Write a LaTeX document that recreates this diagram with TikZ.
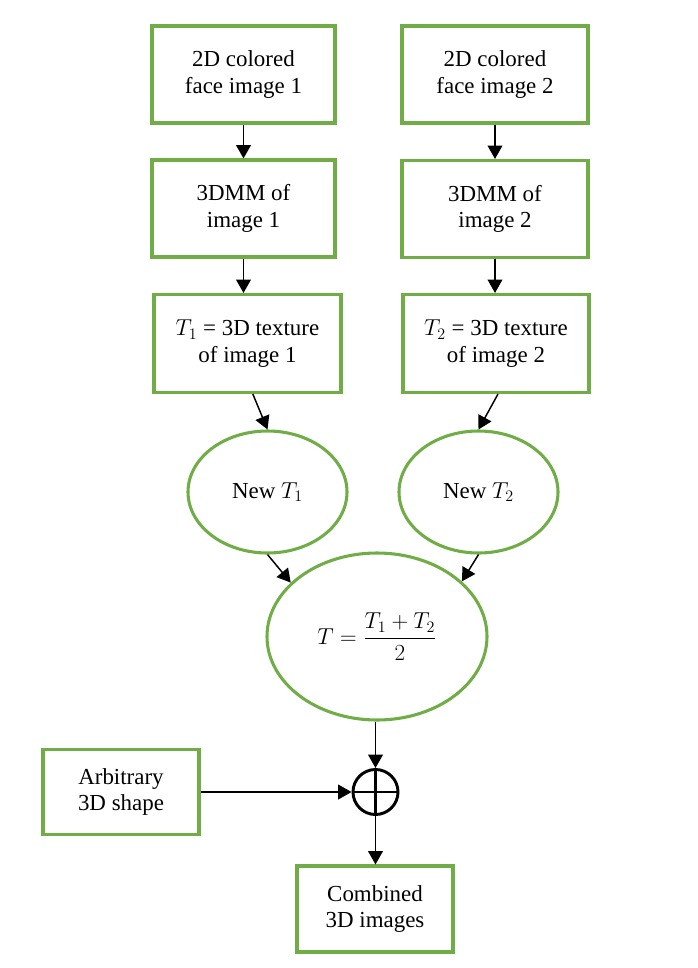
\documentclass[tikz,border=0pt]{standalone}
\usepackage{amsmath, amssymb}
\usepackage{fontspec}
\setmainfont{Liberation Serif}
\usepackage{tikz}
\usetikzlibrary{positioning}
\usetikzlibrary{arrows.meta}
\usetikzlibrary{shapes.geometric}
\usepackage{xcolor}
\definecolor{boxgreen}{HTML}{70AD47}

\begin{document}
\begin{tikzpicture}[x=0.75pt, y=-0.75pt,
    every node/.style={font=\fontsize{17.2}{19.8}\selectfont, align=center, inner sep=2pt},
    procbox/.style={draw=boxgreen, line width=2.3pt, rectangle, minimum width=137.25pt, minimum height=72.75pt},
    texel/.style={draw=boxgreen, line width=2.3pt, ellipse, minimum width=119.25pt, minimum height=91.5pt},
    flow/.style={-{Triangle[length=10pt, width=11pt]}, line width=1.1pt}]
    \useasboundingbox (0,0) rectangle (698,968);

    % Input images
    \node (img1) [procbox] at (243.5,74.5) {2D colored\\face image 1};
    \node (img2) [procbox, minimum width=139.5pt] at (495,74.5) {2D colored\\face image 2};

    % 3DMM fits
    \node (mm1) [procbox] at (243.5,208.5) {3DMM of\\image 1};
    \node (mm2) [procbox, minimum width=139.5pt] at (495,209) {3DMM of\\image 2};

    % Textures
    \node (tex1) [procbox, minimum width=140.25pt, minimum height=73.5pt] at (247.5,343.5) {$T_1$ = 3D texture\\of image 1};
    \node (tex2) [procbox, minimum width=139.5pt, minimum height=73.5pt] at (496,343.5) {$T_2$ = 3D texture\\of image 2};

    % New textures and average
    \node (new1) [texel] at (267.5,492) {New $T_1$};
    \node (new2) [texel] at (478.5,492) {New $T_2$};
    \node (avg) [texel, minimum width=165pt, minimum height=125.25pt] at (377,636.5) {$T=\dfrac{T_1+T_2}{2}$};

    % Combination
    \node (plus) [draw, circle, line width=2.2pt, minimum size=33.75pt, inner sep=0pt] at (375.5,792) {};
    \draw[line width=1.8pt] (plus.north) -- (plus.south) (plus.west) -- (plus.east);
    \node (arb) [procbox, minimum width=117pt, minimum height=63.75pt] at (121,792) {Arbitrary\\3D shape};
    \node (comb) [procbox, minimum width=117pt, minimum height=64.5pt] at (375,909) {Combined\\3D images};

    % Arrows
    \draw[flow] (img1.south) -- (mm1.north);
    \draw[flow] (img2.south) -- (mm2.north);
    \draw[flow] (mm1.south) -- (mm1.south |- tex1.north);
    \draw[flow] (mm2.south) -- (mm2.south |- tex2.north);
    \draw[flow] ([xshift=4pt]tex1.south) -- (new1.north);
    \draw[flow] ([xshift=1.5pt]tex2.south) -- (new2.north);
    \draw[flow] (new1.south) -- (avg.148);
    \draw[flow] (new2.south) -- (avg.33);
    \draw[flow] (avg.south -| plus.north) -- (plus.north);
    \draw[flow] (arb.east) -- (plus.west);
    \draw[flow] (plus.south) -- (plus.south |- comb.north);
\end{tikzpicture}
\end{document}
